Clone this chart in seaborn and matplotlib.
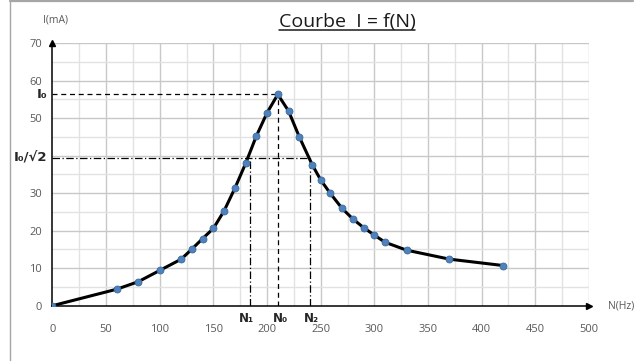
import numpy as np
import pandas as pd
import seaborn as sns
import matplotlib.pyplot as plt
from matplotlib.lines import Line2D

# data
freq_hz = [0, 60, 80, 100, 120, 130, 140, 150, 160, 170, 180, 190, 200, 210,
           220, 230, 242, 250, 259, 270, 280, 290, 300, 310, 330, 370, 420]
current_ma = [0, 4.4, 6.4, 9.4, 12.4, 15.1, 17.9, 20.6, 25.3, 31.3, 37.9, 45.2,
              51.4, 56.3, 51.9, 45.0, 37.6, 33.5, 29.9, 25.9, 23.1, 20.8, 18.8,
              16.9, 14.8, 12.4, 10.7]
x_ticks = [0, 50, 100, 150, 200, 250, 300, 350, 400, 450, 500]
y_ticks = [0, 10, 20, 30, 40, 50, 60, 70]
y_tick_labels = ["0", "10", "20", "30", "", "50", "60", "70"]

I0 = 56.3
I0_sqrt2 = 39.3
N0, N1, N2 = 210.4, 183.8, 240.3

df = pd.DataFrame({"N": freq_hz, "I": current_ma})

sns.set_style("white")
plt.rcParams["font.family"] = ["Open Sans", "DejaVu Sans"]

fig = plt.figure(figsize=(6.44, 3.61), dpi=100)
ax = fig.add_axes([0.0815, 0.1532, 0.833, 0.7277])

# grid: major every 50 / 10, minor every 25 / 5
for v in np.arange(25, 501, 25):
    c = "#c8c8c8" if v % 50 == 0 else "#e2e2e2"
    ax.axvline(v, color=c, lw=1, zorder=0)
for v in np.arange(5, 71, 5):
    c = "#c8c8c8" if v % 10 == 0 else "#e2e2e2"
    ax.axhline(v, color=c, lw=1, zorder=0)

# reference lines
ax.plot([0, N0], [I0, I0], color="black", lw=0.9, ls=(0, (4, 3)), zorder=2)
ax.plot([N0, N0], [0, I0], color="black", lw=0.9, ls=(0, (4, 3)), zorder=2)
ax.plot([0, N2], [I0_sqrt2, I0_sqrt2], color="black", lw=0.9,
        ls=(0, (6, 2, 1, 2)), zorder=2)
ax.plot([N1, N1], [0, I0_sqrt2], color="black", lw=0.9,
        ls=(0, (6, 2, 1, 2)), zorder=2)
ax.plot([N2, N2], [0, I0_sqrt2], color="black", lw=0.9,
        ls=(0, (6, 2, 1, 2)), zorder=2)

sns.lineplot(data=df, x="N", y="I", ax=ax, color="black", lw=2.2,
             marker="o", markersize=5, markerfacecolor="#4F81BD",
             markeredgecolor="#3A6A9E", markeredgewidth=0.6, zorder=3)

ax.set_xlim(0, 500)
ax.set_ylim(0, 70)
ax.set_xticks(x_ticks)
ax.set_yticks(y_ticks)
ax.set_yticklabels(y_tick_labels)
ax.tick_params(axis="both", labelsize=8, colors="#595959", length=4,
               width=0.8, direction="out")
ax.tick_params(axis="x", pad=9, color="#404040")
ax.tick_params(axis="y", color="#404040")
ax.set_xlabel("")
ax.set_ylabel("")

for s in ["top", "right"]:
    ax.spines[s].set_visible(False)
for s in ["left", "bottom"]:
    ax.spines[s].set_color("black")
    ax.spines[s].set_linewidth(1.1)

# axis arrows
ax.plot(1, 0, ">", color="black", ms=5, transform=ax.transAxes, clip_on=False)
ax.plot(0, 1, "^", color="black", ms=4, transform=ax.transAxes, clip_on=False)

# annotations
ax.text(-5, I0, "I₀", ha="right", va="center", fontsize=9.5,
        fontweight="bold", family="DejaVu Sans")
ax.text(-5, I0_sqrt2, "I₀/√2", ha="right", va="center", fontsize=9.5,
        fontweight="bold", family="DejaVu Sans")
for n, lab in [(N1 - 3, "N₁"), (N0 + 2, "N₀"), (N2 + 1, "N₂")]:
    ax.text(n, -1.6, lab, ha="center", va="top", fontsize=8.5,
            fontweight="bold", family="DejaVu Sans")

fig.text(56 / 644, 1 - 20 / 361, "I(mA)", ha="center", va="center",
         fontsize=7.5, color="#595959")
fig.text(608 / 644, 1 - 306 / 361, "N(Hz)", ha="left", va="center",
         fontsize=7.5, color="#595959")

title = fig.text(347 / 644, 1 - 22 / 361, "Courbe  I = f(N)", ha="center",
                 va="center", fontsize=14, color="#1a1a1a")
fig.canvas.draw()
bb = title.get_window_extent().transformed(fig.transFigure.inverted())
fig.add_artist(Line2D([bb.x0, bb.x1], [bb.y0 + 0.002, bb.y0 + 0.002],
                      color="#1a1a1a", lw=1.1))

# outer chart border
fig.add_artist(Line2D([10 / 644, 633 / 644], [1 - 1 / 361, 1 - 1 / 361],
                      color="#a6a6a6", lw=1.6))
fig.add_artist(Line2D([10 / 644, 10 / 644], [0, 1 - 1 / 361],
                      color="#a6a6a6", lw=1.0))

fig.savefig("out.png", dpi=100)
